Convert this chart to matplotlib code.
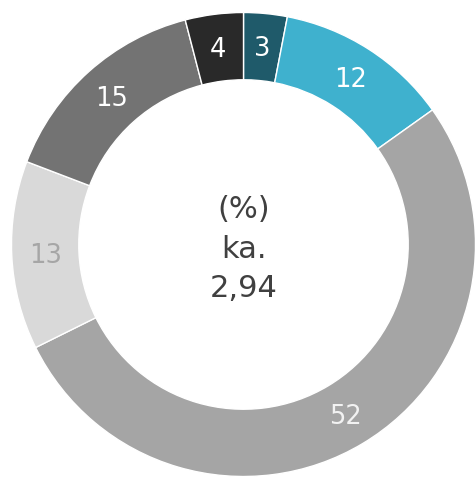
import matplotlib
matplotlib.use("Agg")
import matplotlib.pyplot as plt
import numpy as np

values = [3, 12, 52, 13, 15, 4]
labels = ["3", "12", "52", "13", "15", "4"]
colors = ["#1f5a6a", "#3fb1ce", "#a5a5a5", "#d9d9d9", "#737373", "#292929"]
label_colors = ["white", "white", "#f2f2f2", "#a6a6a6", "white", "white"]
center_text = "(%)\nka.\n2,94"

W, H = 475, 478
fig = plt.figure(figsize=(W / 100, H / 100), dpi=100)
cx, cy, r = 243.5, 478 - 244.5, 232
ax = fig.add_axes([(cx - r) / W, (cy - r) / H, 2 * r / W, 2 * r / H])

inner = 0.71
wedges, _ = ax.pie(values, colors=colors, startangle=90, counterclock=False,
                   radius=1.0,
                   wedgeprops=dict(width=1 - inner, edgecolor="white", linewidth=1))

total = sum(values)
angle = 90.0
rm = (1 + inner) / 2
for v, lab, lc in zip(values, labels, label_colors):
    span = v / total * 360
    mid = np.deg2rad(angle - span / 2)
    ax.text(rm * np.cos(mid), rm * np.sin(mid) - 0.01, lab, ha="center", va="center",
            fontsize=18.5, color=lc)
    angle -= span

ax.text(0, -0.02, center_text, ha="center", va="center", fontsize=22,
        color="#404040", linespacing=1.45)

ax.set_xlim(-1, 1)
ax.set_ylim(-1, 1)
ax.set_aspect("equal")
ax.axis("off")

fig.savefig("out.png", dpi=100)
